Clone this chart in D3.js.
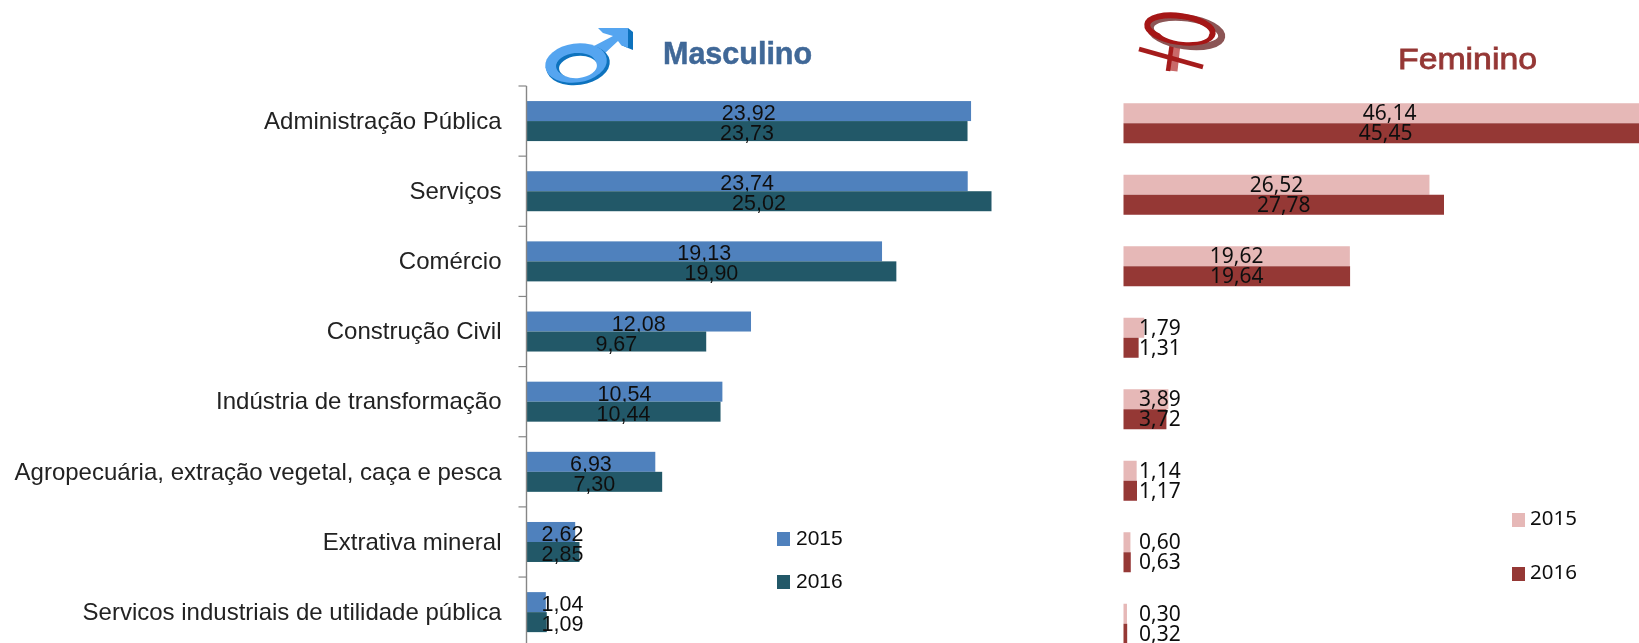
<!DOCTYPE html>
<html>
<head>
<meta charset="utf-8">
<script src="https://cdn.jsdelivr.net/npm/d3@7"></script>
<style>
    html, body { margin: 0; padding: 0; background: #fff; overflow: hidden; }
    text { fill: #111; }
</style>
</head>
<body>
<div id="chart"></div>
<script>
// data
var categories = [
    "Administração Pública",
    "Serviços",
    "Comércio",
    "Construção Civil",
    "Indústria de transformação",
    "Agropecuária, extração vegetal, caça e pesca",
    "Extrativa mineral",
    "Servicos industriais de utilidade pública"
];
var years = ["2015", "2016"];
var male2015 = [23.92, 23.74, 19.13, 12.08, 10.54, 6.93, 2.62, 1.04];
var male2016 = [23.73, 25.02, 19.90, 9.67, 10.44, 7.30, 2.85, 1.09];
var female2015 = [46.14, 26.52, 19.62, 1.79, 3.89, 1.14, 0.60, 0.30];
var female2016 = [45.45, 27.78, 19.64, 1.31, 3.72, 1.17, 0.63, 0.32];

var svg = d3.select("#chart").append("svg")
    .attr("width", 1639)
    .attr("height", 643)
    .style("display", "block");

// the reference is a soft upscaled screenshot
svg.append("filter").attr("id", "soft")
    .append("feGaussianBlur").attr("stdDeviation", 0.55);

var root = svg.append("g").attr("filter", "url(#soft)");

var format = function(v){ return d3.format(".2f")(v).replace(".", ","); };

// Scales
var xMale = d3.scaleLinear().domain([0, 25.02]).range([526.5, 991.5]);
var xFemale = d3.scaleLinear().domain([0, 27.78]).range([1123.5, 1444]);
var yMale = d3.scaleBand().domain(categories).range([86, 86 + 8 * 70.15]);
var yFemale = d3.scaleBand().domain(categories).range([87.5, 87.5 + 8 * 71.5]);

function drawPanel(opts) {
    var y = opts.y, x = opts.x;
    var inner = d3.scaleBand().domain(years).range([y.bandwidth() / 2 - 20, y.bandwidth() / 2 + 20]);
    var font = opts.font;

    opts.series.forEach(function(values, s){
        var year = years[s];
        var g = root.append("g");

        g.selectAll("rect").data(values).enter().append("rect")
            .attr("x", x(0))
            .attr("y", function(d, i){ return y(categories[i]) + inner(year); })
            .attr("width", function(d){ return x(d) - x(0); })
            .attr("height", inner.bandwidth())
            .attr("fill", opts.colors[s]);

        g.selectAll("text").data(values).enter().append("text")
            .attr("font-family", font)
            .attr("font-size", opts.valueSize)
            .attr("y", function(d, i){ return y(categories[i]) + inner(year) + inner.bandwidth() - opts.valueLift; })
            // labels that do not fit in the bar start just past the axis
            .attr("x", function(d){
                var w = x(d) - x(0);
                return w < opts.fitWidth ? x(0) + opts.smallOffset : x(0) + w / 2;
            })
            .attr("text-anchor", function(d){
                return x(d) - x(0) < opts.fitWidth ? "start" : "middle";
            })
            .text(format);
    });

    // legend
    var legend = root.append("g").selectAll("g").data(years).enter().append("g");
    legend.append("rect")
        .attr("x", opts.legendX)
        .attr("y", function(d, i){ return opts.legendY[i]; })
        .attr("width", 13)
        .attr("height", 14)
        .attr("fill", function(d, i){ return opts.colors[i]; });
    legend.append("text")
        .attr("x", opts.legendX + opts.legendGap)
        .attr("y", function(d, i){ return opts.legendY[i] + opts.legendBase; })
        .attr("font-family", font)
        .attr("font-size", opts.legendSize)
        .text(function(d){ return d; });
}

drawPanel({
    x: xMale, y: yMale,
    series: [male2015, male2016],
    colors: ["#4f81bd", "#215968"],
    font: "'Liberation Sans', Arial, sans-serif",
    valueSize: 21.5, valueLift: 1, fitWidth: 60, smallOffset: 15,
    legendX: 777, legendY: [532, 575], legendGap: 19, legendBase: 13, legendSize: 21
});

drawPanel({
    x: xFemale, y: yFemale,
    series: [female2015, female2016],
    colors: ["#e6b8b7", "#953735"],
    font: "'Noto Sans', sans-serif",
    valueSize: 21, valueLift: 3, fitWidth: 60, smallOffset: 15.5,
    legendX: 1512, legendY: [513, 567], legendGap: 18, legendBase: 12, legendSize: 20.5
});

// Category axis, tick marks sit on the band edges
var axis = root.append("g")
    .attr("transform", "translate(" + xMale(0) + ",0)")
    .call(d3.axisLeft(yMale).tickSize(0).tickPadding(25));
axis.select(".domain").remove();
axis.selectAll("text")
    .attr("font-family", "'Liberation Sans', Arial, sans-serif")
    .attr("font-size", 24)
    .style("fill", "#222");

root.append("g").selectAll("line").data(categories).enter().append("line")
    .attr("x1", xMale(0) - 8)
    .attr("x2", xMale(0))
    .attr("y1", function(d){ return yMale(d); })
    .attr("y2", function(d){ return yMale(d); })
    .attr("stroke", "#868686")
    .attr("stroke-width", 1.2);

root.append("line")
    .attr("x1", xMale(0)).attr("x2", xMale(0))
    .attr("y1", yMale.range()[0]).attr("y2", 643)
    .attr("stroke", "#868686")
    .attr("stroke-width", 1.4);

// Titles
root.append("text")
    .attr("x", 663).attr("y", 64)
    .attr("font-family", "'Liberation Sans', Arial, sans-serif")
    .attr("font-weight", "bold").attr("font-size", 30.5)
    .attr("stroke", "#3f6797")
    .attr("stroke-width", 0.5)
    .style("fill", "#3f6797")
    .text("Masculino");

// stretched in the reference, wider than the regular face
root.append("text")
    .attr("x", 1398).attr("y", 69)
    .attr("font-family", "'Liberation Sans', Arial, sans-serif")
    .attr("font-size", 30)
    .attr("textLength", 139)
    .attr("lengthAdjust", "spacingAndGlyphs")
    .attr("stroke", "#953735")
    .attr("stroke-width", 0.8)
    .style("fill", "#953735")
    .text("Feminino");

// Male symbol
var male = root.append("g");
male.append("path")
    .attr("fill", "#0c72bd")
    .attr("d", "M628 28 L633 32 L633 50 L628 48 L621 45 Z");
male.append("path")
    .attr("fill", "#55a5f0")
    .attr("d", "M598 28 L628 28 L628 48 L621 45 L618 41 L603 55 L592 47 L613 36 L603 33 Z");
male.append("ellipse")
    .attr("cx", 578).attr("cy", 65).attr("rx", 32).attr("ry", 20)
    .attr("transform", "rotate(-8 578 65)")
    .attr("fill", "#0c72bd");
male.append("ellipse")
    .attr("cx", 576).attr("cy", 63).attr("rx", 31).attr("ry", 19.5)
    .attr("transform", "rotate(-8 576 63)")
    .attr("fill", "#55a5f0");
male.append("ellipse")
    .attr("cx", 576).attr("cy", 65).attr("rx", 20).attr("ry", 12)
    .attr("transform", "rotate(-6 576 65)")
    .attr("fill", "#0c72bd");
male.append("ellipse")
    .attr("cx", 578).attr("cy", 67).attr("rx", 19).attr("ry", 11)
    .attr("transform", "rotate(-6 578 67)")
    .attr("fill", "#fff");

// Female symbol
var female = root.append("g");
female.append("line")
    .attr("x1", 1176).attr("y1", 44).attr("x2", 1173).attr("y2", 71)
    .attr("stroke", "#c96a6a").attr("stroke-width", 9);
female.append("line")
    .attr("x1", 1172).attr("y1", 43).attr("x2", 1168).attr("y2", 71)
    .attr("stroke", "#a51c1c").attr("stroke-width", 4.5);
female.append("line")
    .attr("x1", 1139).attr("y1", 49).attr("x2", 1203).attr("y2", 67)
    .attr("stroke", "#a51c1c").attr("stroke-width", 4.5);
female.append("ellipse")
    .attr("cx", 1186).attr("cy", 32).attr("rx", 36).attr("ry", 14)
    .attr("transform", "rotate(8 1186 32)")
    .attr("fill", "#fff")
    .attr("stroke", "#8c5555")
    .attr("stroke-width", 7);
female.append("ellipse")
    .attr("cx", 1180).attr("cy", 29).attr("rx", 33).attr("ry", 13)
    .attr("transform", "rotate(8 1180 29)")
    .attr("fill", "none")
    .attr("stroke", "#a51515")
    .attr("stroke-width", 6);
female.append("ellipse")
    .attr("cx", 1184).attr("cy", 33).attr("rx", 25).attr("ry", 9)
    .attr("transform", "rotate(5 1184 33)")
    .attr("fill", "#fff");
</script>
</body>
</html>
